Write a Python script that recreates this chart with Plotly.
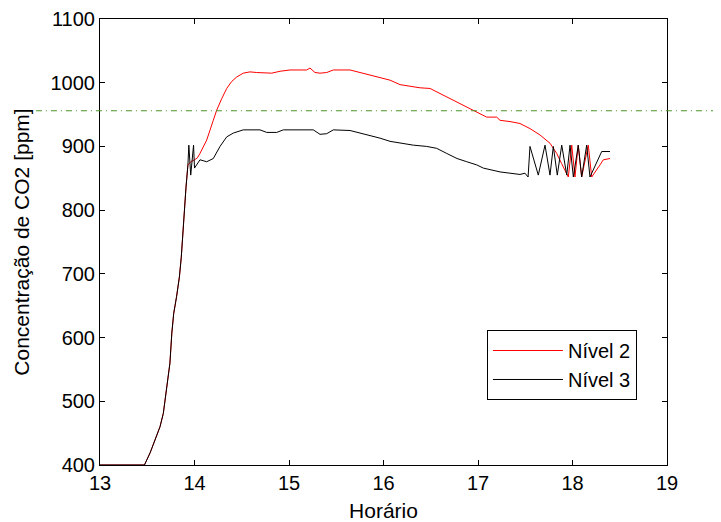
import plotly.graph_objects as go

# Nível 2 (red)
t_n2 = [13.0, 13.47, 13.53, 13.58, 13.635, 13.67, 13.70, 13.72, 13.74, 13.76, 13.78, 13.81,
        13.84, 13.86, 13.875, 13.89, 13.91, 13.93, 13.96, 14.0, 14.03, 14.058, 14.129, 14.199,
        14.235, 14.288, 14.341, 14.394, 14.447, 14.516, 14.587, 14.658, 14.764, 14.817, 14.905,
        15.011, 15.187, 15.222, 15.275, 15.328, 15.399, 15.469, 15.646, 15.751, 15.857, 15.963,
        16.069, 16.175, 16.280, 16.386, 16.492, 16.598, 16.704, 16.810, 16.915, 17.021, 17.092,
        17.198, 17.233, 17.339, 17.444, 17.550, 17.656, 17.762, 17.833, 17.885, 17.956, 17.992,
        18.026, 18.061, 18.097, 18.167, 18.203, 18.291, 18.326, 18.397]
v_n2 = [400, 400, 419, 439, 460, 481, 513, 533, 560, 607, 638, 664,
        695, 726, 764, 795, 836, 871, 876, 879, 882, 889, 910, 941,
        957, 975, 991, 1002, 1009, 1015, 1017, 1016, 1015, 1015, 1018,
        1020, 1020, 1023, 1016, 1015, 1016, 1020, 1020, 1016, 1012, 1008,
        1004, 997, 994, 992, 991, 983, 975, 968, 960, 952, 946,
        946, 941, 939, 936, 928, 918, 905, 889, 873, 852, 902,
        852, 902, 852, 902, 852, 871, 879, 881]

# Nível 3 (black)
t_n3 = [13.0, 13.47, 13.53, 13.58, 13.635, 13.67, 13.70, 13.72, 13.74, 13.76, 13.78, 13.81,
        13.84, 13.86, 13.875, 13.89, 13.91, 13.93, 13.94, 13.96, 13.99, 14.0, 14.058, 14.129,
        14.199, 14.270, 14.341, 14.411, 14.516, 14.693, 14.764, 14.870, 14.940, 15.257, 15.328,
        15.399, 15.469, 15.646, 15.751, 15.857, 15.963, 16.069, 16.175, 16.315, 16.457, 16.563,
        16.669, 16.778, 16.881, 16.987, 17.056, 17.233, 17.444, 17.497, 17.530, 17.550, 17.638,
        17.709, 17.762, 17.797, 17.839, 17.886, 17.939, 17.974, 18.009, 18.061, 18.097, 18.150,
        18.185, 18.256, 18.309, 18.397]
v_n3 = [400, 400, 419, 439, 460, 481, 513, 533, 560, 607, 638, 664,
        695, 726, 764, 795, 836, 870, 902, 855, 902, 866, 879, 876,
        881, 900, 915, 921, 926, 926, 922, 922, 926, 926, 919,
        920, 926, 925, 921, 918, 913, 908, 905, 902, 900, 897,
        889, 881, 876, 871, 866, 860, 856, 858, 852, 900, 855,
        902, 855, 900, 855, 902, 855, 902, 852, 902, 852, 902,
        852, 876, 892, 892]

limite = 956
x_ticks = [13, 14, 15, 16, 17, 18, 19]
y_ticks = [400, 500, 600, 700, 800, 900, 1000, 1100]

FONT = "Liberation Sans, Arial, sans-serif"

fig = go.Figure()
fig.add_trace(go.Scatter(x=t_n2, y=v_n2, mode="lines", name="Nível 2",
                         line=dict(color="#ff0000", width=1)))
fig.add_trace(go.Scatter(x=t_n3, y=v_n3, mode="lines", name="Nível 3",
                         line=dict(color="#000000", width=1)))

fig.add_shape(type="line", xref="paper", yref="y", x0=-0.113, x1=1.1, y0=limite, y1=limite,
              line=dict(color="#4a9428", width=1, dash="6px,4px,1px,4px"))

axis_common = dict(showgrid=False, zeroline=False, showline=True, linecolor="black",
                   linewidth=1, mirror="ticks", ticks="inside", ticklen=5, tickcolor="black",
                   automargin=False,
                   tickfont=dict(family=FONT, size=20, color="black"))

fig.update_xaxes(range=[13, 19], tickvals=x_ticks, **axis_common,
                 title=dict(text="Horário", font=dict(family=FONT, size=21, color="black")))
fig.update_yaxes(range=[400, 1100], tickvals=y_ticks, **axis_common,
                 title=dict(text="Concentração de CO2 [ppm]",
                            font=dict(family=FONT, size=21, color="black")))

# page body adds an 8px offset, so the figure is sized to fit the window
fig.update_layout(
    width=713, height=514,
    margin=dict(l=92, r=54, t=11, b=57),
    paper_bgcolor="white", plot_bgcolor="white",
    font=dict(family=FONT, size=20, color="black"),
    legend=dict(x=0.947, y=0.3027, xanchor="right", yanchor="top",
                bordercolor="black", borderwidth=1, bgcolor="white",
                font=dict(family=FONT, size=20, color="black"),
                itemwidth=70, tracegroupgap=0),
    showlegend=True,
)

fig.write_html("out.html")
